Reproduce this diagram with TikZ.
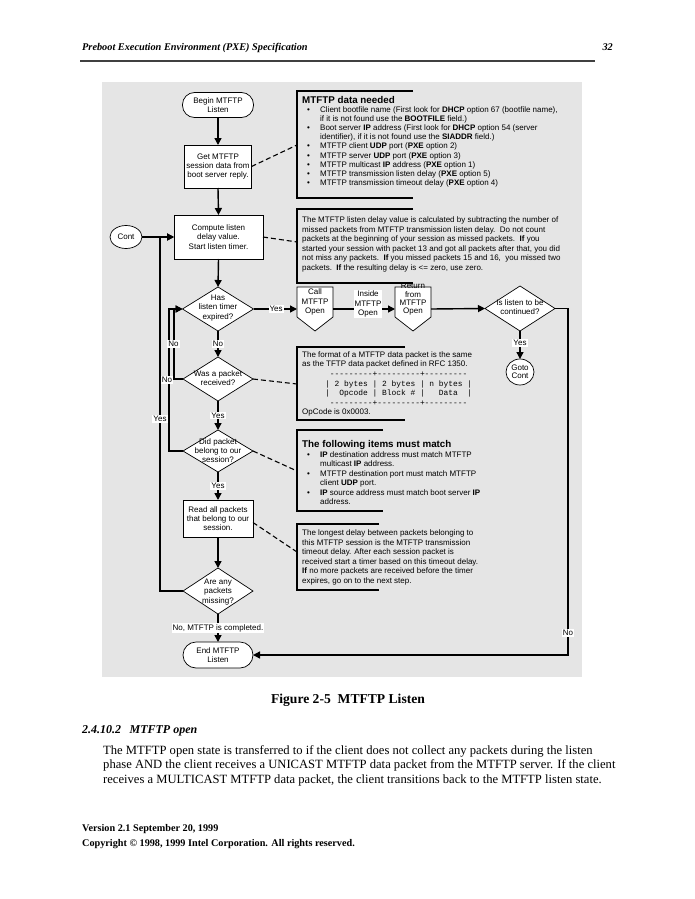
\documentclass[tikz,border=0pt]{standalone}
\usepackage{fontspec}
\setmainfont{Liberation Serif}
\setsansfont{Liberation Sans}
\setmonofont{Liberation Mono}
\usetikzlibrary{arrows.meta,shapes.geometric,calc}
\definecolor{pagegray}{RGB}{229,229,229}
\newcommand\diagfont{\sffamily\fontsize{8}{9.2}\selectfont}
\newcommand\mybul{\makebox[13pt][l]{\textbullet}}
\newcommand\myind{\makebox[13pt][l]{}}
\begin{document}
\begin{tikzpicture}[x=1pt,y=-1pt,
  box/.style={draw, fill=white, line width=0.7pt, inner sep=0pt, outer sep=0pt, font=\diagfont, align=center},
  term/.style={box, rounded corners=12pt},
  dia/.style={diamond, draw, fill=white, line width=0.7pt, inner sep=0pt, outer sep=0pt},
  oval/.style={ellipse, draw, fill=white, line width=0.7pt, inner sep=0pt, outer sep=0pt, font=\diagfont, align=center},
  frame/.style={inner sep=0pt, outer sep=0pt},
  txt/.style={font=\diagfont, align=center, inner sep=0pt},
  flow/.style={line width=1.4pt, -{Triangle[length=7pt,width=7pt]}},
  plain/.style={line width=1.4pt},
  yn/.style={fill=white, font=\diagfont, inner sep=1pt, align=center},
  callout/.style={line width=1.5pt},
  note/.style={line width=1.1pt, dash pattern=on 5pt off 3pt},
  ctext/.style={anchor=base west, inner sep=0pt, align=left, font=\sffamily\fontsize{8}{9.5}\selectfont},
  ctitle/.style={anchor=base west, inner sep=0pt, font=\sffamily\bfseries\fontsize{9.8}{11}\selectfont}
]
\useasboundingbox (0,0) rectangle (695,899);
\fill[white] (0,0) rectangle (695,899);

% page header
\node[anchor=base west, inner sep=0pt, font=\fontsize{10.3}{12}\selectfont\bfseries\itshape] (hdr) at (82,51) {Preboot Execution Environment (PXE) Specification};
\node[anchor=base east, inner sep=0pt, font=\fontsize{10.3}{12}\selectfont\bfseries\itshape] (pgno) at (613,51) {32};
\draw[line width=1.6pt, black!75] (80,61) -- (595,61);

% figure background
\fill[pagegray] (102,82) rectangle (582,677);

% ---- flow nodes ----
\node[term, minimum width=71pt, minimum height=25pt] (begin) at (218,105) {Begin MTFTP\\Listen};
\node[box, minimum width=67pt, minimum height=43pt] (get) at (218,166.5) {Get MTFTP\\session data from\\boot server reply.};
\node[box, minimum width=89pt, minimum height=44pt] (compute) at (218.5,237) {Compute listen\\delay value.\\Start listen timer.};
\node[oval, minimum width=32pt, minimum height=23pt] (cont) at (126,237) {Cont};

\node[dia, minimum width=71pt, minimum height=44pt] (has) at (218,309) {};
\node[txt] (hast) at (218,308) {Has\\listen timer\\expired?};

\node[frame, minimum width=36pt, minimum height=44pt] (call) at (315,309) {};
\draw[line width=0.7pt, fill=white] (call.north west) -- (call.north east) -- ([yshift=14pt]call.south east) -- (call.south) -- ([yshift=14pt]call.south west) -- cycle;
\node[txt] (callt) at (315,302) {Call\\MTFTP\\Open};

\node[frame, minimum width=36pt, minimum height=44pt] (ret) at (413,309) {};
\draw[line width=0.7pt, fill=white] (ret.north west) -- (ret.north east) -- ([yshift=14pt]ret.south east) -- (ret.south) -- ([yshift=14pt]ret.south west) -- cycle;
\node[txt, font=\sffamily\fontsize{8}{8.3}\selectfont] (rett) at (413,299.5) {Return\\from\\MTFTP\\Open};

\node[dia, minimum width=70pt, minimum height=45pt] (islisten) at (520,308.5) {};
\node[txt] (islistent) at (520,307.5) {Is listen to be\\continued?};
\node[oval, minimum width=28pt, minimum height=26pt, font=\sffamily\fontsize{8}{8.3}\selectfont] (goto) at (520,372) {Goto\\Cont};

\node[dia, minimum width=70pt, minimum height=44pt] (was) at (218,379) {};
\node[txt] (wast) at (218,378.5) {Was a packet\\received?};

\node[dia, minimum width=70pt, minimum height=42pt] (did) at (218,451) {};
\node[txt] (didt) at (218,450.5) {Did packet\\belong to our\\session?};

\node[box, minimum width=70pt, minimum height=37pt] (read) at (218,518.5) {Read all packets\\that belong to our\\session.};

\node[dia, minimum width=70pt, minimum height=46pt] (areany) at (218,591) {};
\node[txt] (areanyt) at (218,592) {Are any\\packets\\missing?};

\node[term, minimum width=70pt, minimum height=26pt, rounded corners=13pt] (end) at (218,655) {End MTFTP\\Listen};

% ---- connectors ----
\draw[flow] (begin.south) -- (get.north);
\draw[flow] (get.south) -- (compute.north);
\draw[flow] (cont.east) -- (compute.west);
\draw[flow] (compute.south) -- (has.north);
\draw[flow] (has.east) -- node[yn, pos=0.52] (yes1) {Yes} (call.west);
\draw[flow] (call.east) -- (ret.west);
\node[yn] (inside) at (368,304) {Inside\\MTFTP\\Open};
\draw[flow] (ret.east) -- (islisten.west);
\draw[flow] (islisten.south) -- node[yn, pos=0.42] (yes2) {Yes} (goto.north);
\draw[flow] (islisten.east) -- ++(13,0) |- (end.east);
\node[yn] (no3) at (568,633) {No};
\draw[flow] (has.south) -- node[yn] (no1) {No} (was.north);
\draw[flow] (was.south) -- node[yn] (yes3) {Yes} (did.north);
\draw[flow] (did.south) -- node[yn] (yes4) {Yes} (read.north);
\draw[flow] (read.south) -- (areany.north);
\draw[flow] (areany.south) -- node[yn] (done) {No, MTFTP is completed.} (end.north);
\draw[flow] (areany.west) -- ++(-23,0) |- (compute.west);
\node[yn] (yes5) at (160,419) {Yes};
\draw[flow] (did.west) -- ++(-14,0) |- (has.west);
\draw[flow] (was.west) -- ++(-9,0) |- (has.west);
\node[yn] (no4) at (173.5,344) {No};
\node[yn] (no5) at (167,380) {No};

% ---- callout connectors ----
\coordinate (n1) at (297,145);
\coordinate (n2) at (297,242);
\coordinate (n3) at (297,384);
\coordinate (n4) at (297,471);
\coordinate (n5) at (297,552);
\draw[note] (get.east) -- (n1);
\draw[note] (compute.east) -- (n2);
\draw[note] (was.east) -- (n3);
\draw[note] (did.east) -- (n4);
\draw[note] ([yshift=-4pt]read.east) -- (n5);

% ---- callout brackets ----
\draw[callout] (413,91) -- (297,91) -- (297,198) -- (413,198);
\draw[callout] (413,209) -- (297,209) -- (297,283) -- (413,283);
\draw[callout] (405,347) -- (297,347) -- (297,420) -- (405,420);
\draw[callout] (383,430) -- (297,430) -- (297,511) -- (383,511);
\draw[callout] (379,524) -- (297,524) -- (297,590) -- (379,590);

% ---- callout texts (anchor = baseline of the LAST line) ----
\node[ctitle] (c1t) at (302,103.5) {MTFTP data needed};
\node[ctext, font=\sffamily\fontsize{8}{9.1}\selectfont] (c1b) at (307,185.3) {%
\mybul Client bootfile name (First look for \textbf{DHCP} option 67 (bootfile name),\\
\myind if it is not found use the \textbf{BOOTFILE} field.)\\
\mybul Boot server \textbf{IP} address (First look for \textbf{DHCP} option 54 (server\\
\myind identifier), if it is not found use the \textbf{SIADDR} field.)\\
\mybul MTFTP client \textbf{UDP} port (\textbf{PXE} option 2)\\
\mybul MTFTP server \textbf{UDP} port (\textbf{PXE} option 3)\\
\mybul MTFTP multicast \textbf{IP} address (\textbf{PXE} option 1)\\
\mybul MTFTP transmission listen delay (\textbf{PXE} option 5)\\
\mybul MTFTP transmission timeout delay (\textbf{PXE} option 4)};

\node[ctext] (c2b) at (302,270) {%
The MTFTP listen delay value is calculated by subtracting the number of\\
missed packets from MTFTP transmission listen delay.\ \ Do not count\\
packets at the beginning of your session as missed packets.\ \ \textbf{If} you\\
started your session with packet 13 and got all packets after that, you did\\
not miss any packets.\ \ \textbf{If} you missed packets 15 and 16,\ \ you missed two\\
packets.\ \ \textbf{If} the resulting delay is <= zero, use zero.};

\node[ctext, font=\sffamily\fontsize{8}{9}\selectfont] (c3a) at (302,366.5) {%
The format of a MTFTP data packet is the same\\
as the TFTP data packet defined in RFC 1350.};
\node[ctext, font=\ttfamily\fontsize{7.9}{9.6}\selectfont] (c3m) at (325,405.3) {%
~---------+---------+---------\\
|~2~bytes~|~2~bytes~|~n~bytes~|\\
|~~Opcode~|~Block~\#~|~~~Data~~|\\
~---------+---------+---------};
\node[ctext] (c3b) at (302,414.5) {OpCode is 0x0003.};

\node[ctitle] (c4t) at (302,447) {The following items must match};
\node[ctext, font=\sffamily\fontsize{8}{9.4}\selectfont] (c4b) at (307,504.5) {%
\mybul \textbf{IP} destination address must match MTFTP\\
\myind multicast \textbf{IP} address.\\
\mybul MTFTP destination port must match MTFTP\\
\myind client \textbf{UDP} port.\\
\mybul \textbf{IP} source address must match boot server \textbf{IP}\\
\myind address.};

\node[ctext, font=\sffamily\fontsize{8}{9.6}\selectfont] (c5b) at (302,583.5) {%
The longest delay between packets belonging to\\
this MTFTP session is the MTFTP transmission\\
timeout delay. After each session packet is\\
received start a timer based on this timeout delay.\\
\textbf{If} no more packets are received before the timer\\
expires, go on to the next step.};

% ---- page text below figure ----
\node[anchor=base, inner sep=0pt, font=\fontsize{13.6}{15}\selectfont\bfseries] (cap) at (348,703.5) {Figure 2-5\hspace{0.5em}MTFTP Listen};
\node[anchor=base west, inner sep=0pt, font=\fontsize{12}{14}\selectfont\bfseries\itshape] (sec) at (82,733.5) {2.4.10.2\hspace{0.7em}MTFTP open};
\node[anchor=base west, inner sep=0pt, align=left, font=\fontsize{12.6}{14.5}\selectfont] (body) at (103,783) {%
The MTFTP open state is transferred to if the client does not collect any packets during the listen\\
phase AND the client receives a UNICAST MTFTP data packet from the MTFTP server. If the client\\
receives a MULTICAST MTFTP data packet, the client transitions back to the MTFTP listen state.};
\node[anchor=base west, inner sep=0pt, align=left, font=\fontsize{10.2}{15}\selectfont\bfseries] (foot) at (82,846) {%
Version 2.1 September 20, 1999\\
Copyright \textcopyright{} 1998, 1999 Intel Corporation. All rights reserved.};
\end{tikzpicture}
\end{document}
